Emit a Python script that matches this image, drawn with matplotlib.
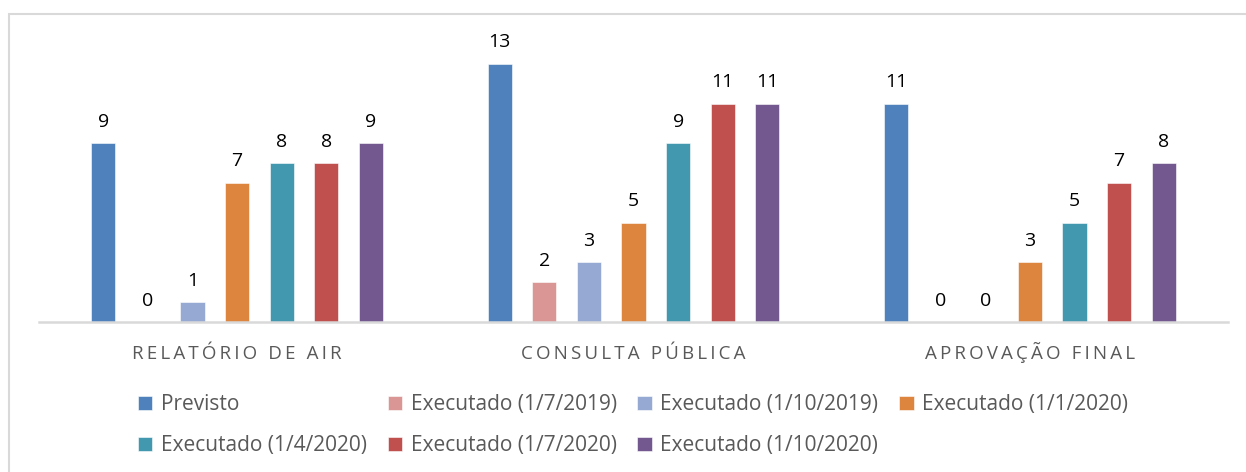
import numpy as np
import matplotlib.pyplot as plt
from matplotlib.patches import Rectangle

# Dados
categorias = ['RELATÓRIO DE AIR', 'CONSULTA PÚBLICA', 'APROVAÇÃO FINAL']
series = ['Previsto', 'Executado (1/7/2019)', 'Executado (1/10/2019)', 'Executado (1/1/2020)',
          'Executado (1/4/2020)', 'Executado (1/7/2020)', 'Executado (1/10/2020)']
previsto = [9, 13, 11]
exec_jul19 = [0, 2, 0]
exec_out19 = [1, 3, 0]
exec_jan20 = [7, 5, 3]
exec_abr20 = [8, 9, 5]
exec_jul20 = [8, 11, 7]
exec_out20 = [9, 11, 8]
valores = [previsto, exec_jul19, exec_out19, exec_jan20, exec_abr20, exec_jul20, exec_out20]
cores = ['#4F81BD', '#D99694', '#95A9D2', '#DD843F', '#4298AF', '#C0504D', '#72588F']

plt.rcParams['font.family'] = ['Open Sans', 'DejaVu Sans']
cinza = '#595959'

fig = plt.figure(figsize=(12.46, 4.72), dpi=100)
# moldura (só topo e esquerda visíveis)
fig.patches.append(Rectangle((9/1246, -0.5), 1.5, 0.5 + (472-14)/472, transform=fig.transFigure,
                             fill=False, edgecolor='#d9d9d9', linewidth=1.5, zorder=0))
ax = fig.add_axes([39/1246, (472-322)/472, 1189/1246, 288/472])

x = np.arange(len(categorias))
passo = 0.1125
largura = 0.061
handles = []
for i, (nome, v, c) in enumerate(zip(series, valores, cores)):
    pos = x + (i - 3) * passo
    b = ax.bar(pos, v, largura, color=c, edgecolor='white', linewidth=0.4, label=nome, zorder=2)
    handles.append(b)
    for px, val in zip(pos, v):
        ax.annotate(str(val), (px, val), xytext=(0, 9), textcoords='offset points',
                    ha='center', va='bottom', fontsize=14, color='black')

ax.set_xlim(-0.5, 2.5)
ax.set_ylim(0, 14.5)
ax.set_yticks([])
ax.set_xticks([])
for s in ['top', 'right', 'left']:
    ax.spines[s].set_visible(False)
ax.spines['bottom'].set_color('#d9d9d9')
ax.spines['bottom'].set_linewidth(1.8)

# rótulos das categorias com espaçamento entre letras
esp = '\u2009'
rotulos = [(esp + ' ' + esp).join(esp.join(p) for p in c.split(' ')) for c in categorias]
for xi, r in zip(x, rotulos):
    ax.text(xi, -37/288, r, transform=ax.get_xaxis_transform(), ha='center', va='baseline',
            fontsize=13.5, color=cinza)

# Legenda (preenchida por linhas)
ordem = [0, 4, 1, 5, 2, 6, 3]
leg = fig.legend([handles[k] for k in ordem], [series[k] for k in ordem], ncol=4,
                 loc='upper center', bbox_to_anchor=(633/1246, (472-384)/472), frameon=False,
                 fontsize=15, handlelength=0.7, handleheight=0.7, handletextpad=0.4,
                 columnspacing=1.0, labelspacing=0.95, borderpad=0)
for t in leg.get_texts():
    t.set_color(cinza)

fig.savefig('out.png', dpi=100)
